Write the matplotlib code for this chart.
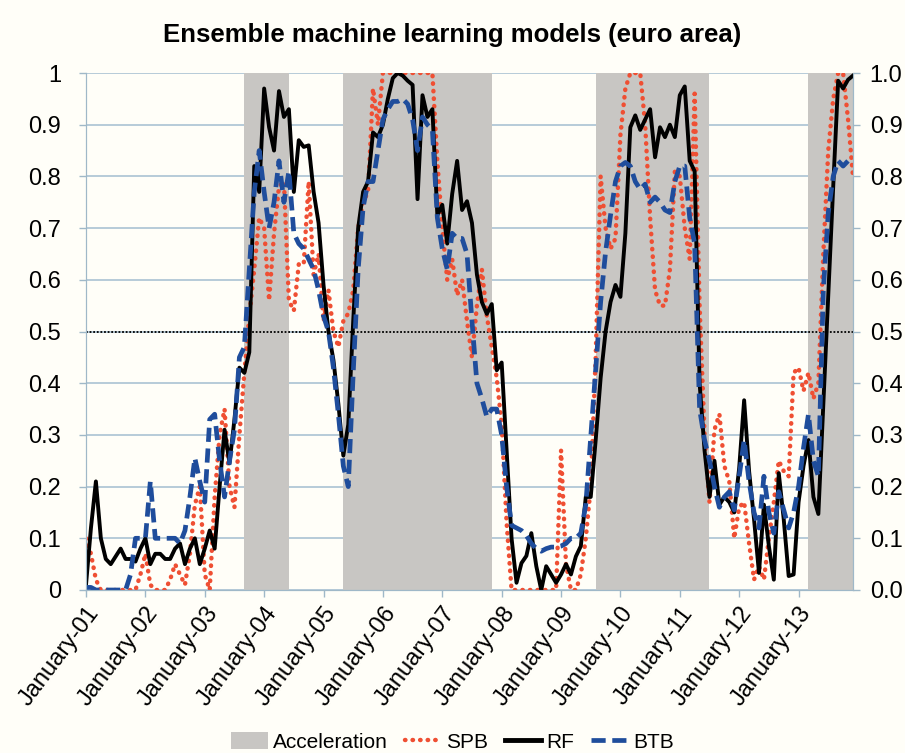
import numpy as np
import matplotlib.pyplot as plt
from matplotlib.patches import Patch
from matplotlib.lines import Line2D

# Ensemble machine learning models (euro area), monthly Jan-2001 .. Dec-2013

spb = [0.10, 0.07, 0.02, 0.0, 0.0, 0.0, 0.0, 0.0, 0.0, 0.0, 0.0, 0.03,
       0.07, 0.01, 0.0, 0.0, 0.0, 0.02, 0.05, 0.03, 0.01, 0.07, 0.165, 0.20,
       0.03, 0.0, 0.18, 0.30, 0.35, 0.20, 0.16, 0.30, 0.42, 0.53, 0.62, 0.72,
       0.70, 0.56, 0.69, 0.78, 0.79, 0.56, 0.54, 0.63, 0.63, 0.79, 0.61, 0.65,
       0.52, 0.58, 0.50, 0.47, 0.52, 0.535, 0.58, 0.70, 0.75, 0.77, 0.97, 0.90,
       1.0, 1.0, 1.0, 1.0, 1.0, 1.0, 1.0, 1.0, 1.0, 1.0, 1.0, 0.83,
       0.70, 0.60, 0.64, 0.57, 0.60, 0.52, 0.45, 0.55, 0.62, 0.53, 0.47, 0.41,
       0.32, 0.13, 0.0, 0.0, 0.0, 0.0, 0.0, 0.0, 0.0, 0.0, 0.0, 0.0,
       0.27, 0.05, 0.0, 0.0, 0.03, 0.10, 0.20, 0.45, 0.80, 0.70, 0.66, 0.68,
       0.88, 0.97, 1.0, 1.0, 1.0, 0.90, 0.72, 0.58, 0.55, 0.55, 0.62, 0.81,
       0.80, 0.70, 0.64, 0.96, 0.55, 0.30, 0.17, 0.31, 0.34, 0.24, 0.21, 0.10,
       0.16, 0.17, 0.09, 0.02, 0.046, 0.02, 0.10, 0.17, 0.25, 0.23, 0.22, 0.42,
       0.43, 0.385, 0.42, 0.37, 0.40, 0.65, 0.85, 0.95, 1.0, 1.0, 0.91, 0.80]

rf = [0.01, 0.12, 0.21, 0.10, 0.06, 0.05, 0.065, 0.08, 0.06, 0.06, 0.055, 0.08,
      0.10, 0.05, 0.07, 0.07, 0.06, 0.06, 0.08, 0.09, 0.05, 0.08, 0.10, 0.05,
      0.08, 0.115, 0.08, 0.20, 0.31, 0.245, 0.33, 0.43, 0.42, 0.46, 0.82, 0.77,
      0.97, 0.895, 0.85, 0.965, 0.915, 0.93, 0.77, 0.87, 0.857, 0.86, 0.77, 0.71,
      0.59, 0.50, 0.445, 0.36, 0.26, 0.32, 0.52, 0.70, 0.77, 0.79, 0.885, 0.876,
      0.90, 0.95, 0.99, 1.0, 0.995, 0.985, 0.977, 0.756, 0.957, 0.915, 0.93, 0.725,
      0.745, 0.67, 0.766, 0.83, 0.735, 0.752, 0.71, 0.61, 0.557, 0.534, 0.553, 0.425,
      0.44, 0.27, 0.10, 0.014, 0.052, 0.066, 0.11, 0.046, 0.0, 0.046, 0.03, 0.014,
      0.03, 0.05, 0.03, 0.065, 0.085, 0.18, 0.18, 0.29, 0.41, 0.50, 0.557, 0.59,
      0.567, 0.69, 0.895, 0.918, 0.89, 0.91, 0.93, 0.837, 0.895, 0.876, 0.90, 0.876,
      0.957, 0.974, 0.83, 0.81, 0.40, 0.27, 0.18, 0.25, 0.165, 0.18, 0.17, 0.15,
      0.236, 0.367, 0.23, 0.137, 0.033, 0.165, 0.085, 0.02, 0.226, 0.137, 0.027, 0.03,
      0.17, 0.24, 0.29, 0.18, 0.147, 0.36, 0.57, 0.78, 0.985, 0.97, 0.987, 0.995]

btb = [0.005, 0.005, 0.0, 0.0, 0.0, 0.0, 0.0, 0.0, 0.0, 0.03, 0.10, 0.10,
       0.10, 0.21, 0.10, 0.10, 0.10, 0.10, 0.10, 0.09, 0.115, 0.18, 0.255, 0.21,
       0.17, 0.33, 0.34, 0.25, 0.18, 0.25, 0.31, 0.45, 0.47, 0.62, 0.77, 0.85,
       0.77, 0.70, 0.75, 0.83, 0.75, 0.81, 0.69, 0.67, 0.66, 0.64, 0.62, 0.58,
       0.53, 0.50, 0.43, 0.34, 0.24, 0.20, 0.42, 0.62, 0.74, 0.79, 0.79, 0.85,
       0.91, 0.93, 0.945, 0.945, 0.95, 0.94, 0.91, 0.85, 0.915, 0.90, 0.89, 0.72,
       0.66, 0.62, 0.69, 0.68, 0.68, 0.65, 0.52, 0.40, 0.37, 0.335, 0.35, 0.35,
       0.30, 0.20, 0.125, 0.12, 0.115, 0.105, 0.09, 0.08, 0.075, 0.08, 0.083, 0.083,
       0.085, 0.09, 0.10, 0.10, 0.11, 0.165, 0.295, 0.425, 0.557, 0.654, 0.725, 0.79,
       0.82, 0.827, 0.82, 0.79, 0.775, 0.785, 0.75, 0.76, 0.75, 0.735, 0.73, 0.79,
       0.82, 0.82, 0.72, 0.67, 0.35, 0.29, 0.25, 0.20, 0.16, 0.18, 0.19, 0.155,
       0.22, 0.29, 0.21, 0.15, 0.12, 0.22, 0.15, 0.11, 0.19, 0.155, 0.12, 0.15,
       0.20, 0.275, 0.34, 0.25, 0.22, 0.58, 0.73, 0.80, 0.83, 0.82, 0.83, 0.83]

# acceleration phases (month index, 0 = January 2001)
accel_start = [32, 52, 103, 146]
accel_end = [41, 82, 126, 155]

year_labels = ['January-%02d' % y for y in range(1, 14)]
left_labels = ['0', '0.1', '0.2', '0.3', '0.4', '0.5', '0.6', '0.7', '0.8', '0.9', '1']
right_labels = ['0.0', '0.1', '0.2', '0.3', '0.4', '0.5', '0.6', '0.7', '0.8', '0.9', '1.0']

plt.rcParams['font.family'] = ['Liberation Sans', 'DejaVu Sans']

bg = '#fffef8'
axcol = '#9fb8c8'
grey = '#c8c6c3'
red = '#ef4f33'
blue = '#1f4d9c'

fig = plt.figure(figsize=(9.05, 7.53), dpi=100, facecolor=bg)
ax = fig.add_axes([86 / 905, 1 - 590 / 753, 767 / 905, 517 / 753])
ax.set_facecolor(bg)

months = np.arange(len(rf))

for s, e in zip(accel_start, accel_end):
    ax.axvspan(s, e, color=grey, lw=0, zorder=1)

ax.axhline(0.5, color='black', ls=(0, (1, 1)), lw=1.3, zorder=2)
ax.plot(months, spb, color=red, ls=(0, (0.1, 1.6)), lw=3.2,
        dash_capstyle='round', zorder=3)
ax.plot(months, rf, color='black', lw=2.8, zorder=4)
ax.plot(months, btb, color=blue, ls=(0, (3, 1.4)), lw=3.4, zorder=5)

ax.set_xlim(0, 155)
ax.set_ylim(0, 1)
ax.set_yticks(np.linspace(0, 1, 11))
ax.set_yticklabels(left_labels, fontsize=17)
ax.set_xticks(np.arange(0, 145, 12))
ax.set_xticklabels(year_labels, fontsize=17, rotation=53, ha='right',
                   rotation_mode='anchor')
ax.yaxis.grid(True, color='#aac3d3', lw=1.2)
ax.set_axisbelow(True)
ax.tick_params(axis='both', color=axcol, length=5, width=1)
ax.tick_params(axis='y', pad=13)
ax.tick_params(axis='x', pad=4)
for side in ['left', 'right', 'bottom']:
    ax.spines[side].set_color(axcol)
ax.spines['top'].set_visible(False)

ax2 = ax.twinx()
ax2.set_ylim(0, 1)
ax2.set_yticks(np.linspace(0, 1, 11))
ax2.set_yticklabels(right_labels, fontsize=17)
ax2.tick_params(axis='y', color=axcol, length=5, width=1, pad=7)
for side in ['left', 'right', 'bottom']:
    ax2.spines[side].set_color(axcol)
ax2.spines['top'].set_visible(False)

fig.text(0.5, 1 - 35 / 753, 'Ensemble machine learning models (euro area)',
         ha='center', va='center', fontsize=18.5, fontweight='bold')

handles = [Patch(facecolor=grey, edgecolor='none'),
           Line2D([], [], color=red, ls=(0, (0.1, 1.6)), lw=3.2, dash_capstyle='round'),
           Line2D([], [], color='black', lw=3.5),
           Line2D([], [], color=blue, ls=(0, (3, 1.4)), lw=3.4)]
fig.legend(handles, ['Acceleration', 'SPB', 'RF', 'BTB'], loc='center',
           bbox_to_anchor=(0.5, 1 - 742 / 753), ncol=4, frameon=False,
           fontsize=15, handlelength=1.75, handleheight=0.9, columnspacing=0.8,
           handletextpad=0.25)

fig.savefig('out.png', dpi=100, facecolor=bg)
